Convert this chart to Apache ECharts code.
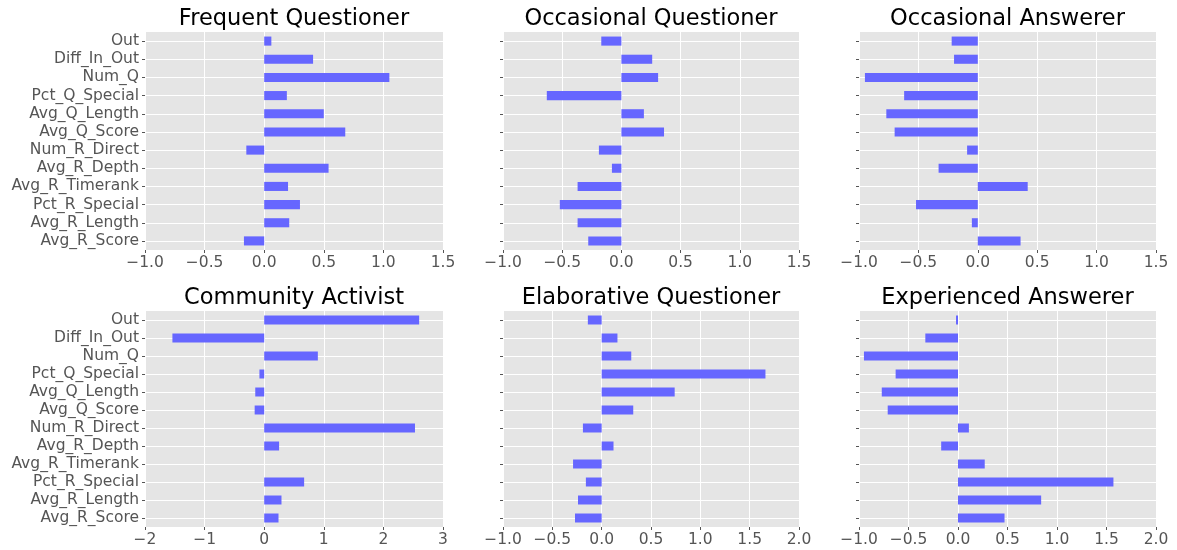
<!DOCTYPE html>
<html>
<head>
<meta charset="utf-8">
<script src="https://cdn.jsdelivr.net/npm/echarts@6/dist/echarts.min.js"></script>
<style>
  html, body { margin: 0; padding: 0; background: #ffffff; }
  #chart { width: 1177px; height: 550px; }
</style>
</head>
<body>
<div id="chart"></div>
<script>
// Feature names, listed top to bottom
const features = [
  'Out', 'Diff_In_Out', 'Num_Q', 'Pct_Q_Special', 'Avg_Q_Length', 'Avg_Q_Score',
  'Num_R_Direct', 'Avg_R_Depth', 'Avg_R_Timerank', 'Pct_R_Special', 'Avg_R_Length', 'Avg_R_Score'
];

// Cluster centroid values, one array per user role
const frequentQuestioner    = [0.06, 0.41, 1.05, 0.19, 0.50, 0.68, -0.15, 0.54, 0.20, 0.30, 0.21, -0.17];
const occasionalQuestioner  = [-0.17, 0.26, 0.31, -0.63, 0.19, 0.36, -0.19, -0.08, -0.37, -0.52, -0.37, -0.28];
const occasionalAnswerer    = [-0.22, -0.20, -0.95, -0.62, -0.77, -0.70, -0.09, -0.33, 0.42, -0.52, -0.05, 0.36];
const communityActivist     = [2.60, -1.54, 0.90, -0.08, -0.15, -0.16, 2.53, 0.25, 0.0, 0.67, 0.29, 0.24];
const elaborativeQuestioner = [-0.14, 0.16, 0.30, 1.66, 0.74, 0.32, -0.19, 0.12, -0.29, -0.16, -0.24, -0.27];
const experiencedAnswerer   = [-0.02, -0.33, -0.95, -0.63, -0.77, -0.71, 0.11, -0.17, 0.27, 1.57, 0.84, 0.47];

const panelTitles = [
  'Frequent Questioner', 'Occasional Questioner', 'Occasional Answerer',
  'Community Activist', 'Elaborative Questioner', 'Experienced Answerer'
];
const panelValues = [
  frequentQuestioner, occasionalQuestioner, occasionalAnswerer,
  communityActivist, elaborativeQuestioner, experiencedAnswerer
];
// x-axis ranges: [min, max, interval, decimals]
const xRanges = [
  [-1, 1.5, 0.5, 1], [-1, 1.5, 0.5, 1], [-1, 1.5, 0.5, 1],
  [-2, 3, 1, 0], [-1, 2, 0.5, 1], [-1, 2, 0.5, 1]
];

// Panel placement (pixels)
const colLeft = [145, 503, 859];
const colWidth = [298, 296, 297];
const rowTop = [32, 311];
const rowHeight = [218, 216];

const FONT = 'DejaVu Sans';
const TICK_COLOR = '#555555';

const grids = [], xAxes = [], yAxes = [], series = [], titles = [];

panelTitles.forEach((name, i) => {
  const r = Math.floor(i / 3), c = i % 3;
  const [mn, mx, step, dec] = xRanges[i];

  grids.push({
    left: colLeft[c], top: rowTop[r], width: colWidth[c], height: rowHeight[r],
    show: true, backgroundColor: '#E5E5E5', borderWidth: 0, containLabel: false
  });

  titles.push({
    text: name,
    left: colLeft[c] + colWidth[c] / 2,
    top: rowTop[r] - 24,
    textAlign: 'center',
    padding: 0,
    textStyle: { fontFamily: FONT, fontSize: 22.5, fontWeight: 'normal', color: '#000000' }
  });

  xAxes.push({
    type: 'value', gridIndex: i, min: mn, max: mx, interval: step,
    axisLine: { show: false, onZero: false },
    axisTick: { show: true, length: 3, lineStyle: { color: TICK_COLOR } },
    splitLine: { show: true, lineStyle: { color: '#FFFFFF', width: 1 } },
    axisLabel: {
      fontFamily: FONT, fontSize: 15.5, color: TICK_COLOR, margin: 5,
      formatter: v => v.toFixed(dec).replace('-', '\u2212')
    }
  });

  yAxes.push({
    type: 'category', gridIndex: i, data: features, inverse: true,
    axisLine: { show: false, onZero: false },
    axisTick: { show: true, alignWithLabel: true, length: 3, lineStyle: { color: TICK_COLOR } },
    splitLine: { show: true, alignWithLabel: true, lineStyle: { color: '#FFFFFF', width: 1 } },
    axisLabel: {
      show: c === 0, fontFamily: FONT, fontSize: 15.5, color: TICK_COLOR, margin: 6,
      interval: 0
    }
  });

  series.push({
    type: 'bar', xAxisIndex: i, yAxisIndex: i,
    data: panelValues[i], barWidth: '50%',
    itemStyle: { color: '#6666FF' },
    silent: true, animation: false
  });
});

const chart = echarts.init(document.getElementById('chart'), null, { renderer: 'canvas' });
chart.setOption({
  animation: false,
  backgroundColor: '#FFFFFF',
  title: titles,
  grid: grids,
  xAxis: xAxes,
  yAxis: yAxes,
  series: series
});
</script>
</body>
</html>
